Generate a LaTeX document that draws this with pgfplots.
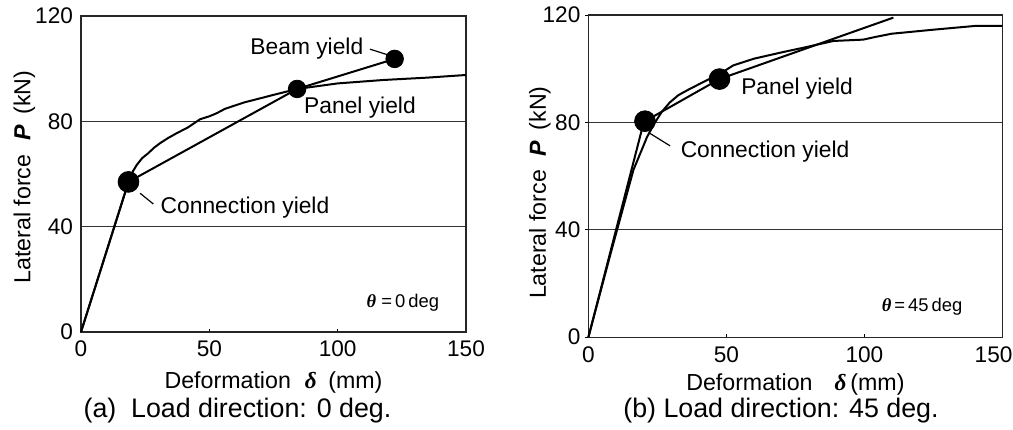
\documentclass[border=0pt]{standalone}
\usepackage{pgfplots}
\pgfplotsset{compat=1.18}
\usepackage{fontspec}
\setmainfont{Liberation Sans}
\newfontfamily\grk{Liberation Serif}
\newcommand{\bgreek}[1]{{\grk\bfseries\itshape #1}}
\newcommand{\bP}{{\bfseries\itshape P}}

\pgfplotsset{
  lfd/.style={
    scale only axis,
    xmin=0, xmax=150, ymin=0, ymax=120,
    xtick={0,50,100,150}, ytick={0,40,80,120},
    xtick pos=bottom, ytick pos=left,
    tick align=inside,
    major tick length=1.6pt,
    ymajorgrids,
    grid style={line width=0.45pt, black!80},
    axis line style={line width=0.7pt, black!85},
    tick style={line width=0.5pt, black},
    /pgf/number format/assume math mode=true,
    tick label style={font=\fontsize{11.3}{13}\selectfont},
    xticklabel style={yshift=-1pt},
    yticklabel style={xshift=-0.5pt},
    clip=false,
  },
  curve/.style={black, line width=1pt, line join=round},
  yieldpt/.style={only marks, mark=*, mark options={fill=black, draw=black}},
}

\begin{document}
\begin{tikzpicture}
\path[use as bounding box] (0,0) rectangle (506.5pt,214.5pt);

% ---------- (a) load direction 0 deg ----------
\begin{axis}[lfd,
  at={(40.5pt,48.5pt)}, anchor=south west,
  width=192.5pt, height=158pt,
  y tick style={draw=none},
]
% experimental envelope
\addplot[curve] coordinates {
  (0,0) (18.5,57) (20.2,61) (21.7,63.4) (23.8,66) (26.2,67.9) (28.5,70)
  (30.8,71.7) (34,73.7) (37.3,75.5) (41.5,77.6) (46.4,80.8) (50,81.9)
  (52.9,83.1) (56,84.7) (59.3,85.8) (64,87.3) (69.7,88.7) (76,90.3)
  (84.2,92.3) (100,94.4) (117.8,95.7) (135,96.6) (150,97.6)
};
% multi-linear model
\addplot[curve] coordinates {(0,0) (18.5,57) (84.2,92.3) (122.2,103.7)};
\addplot[yieldpt, mark size=5.2pt] coordinates {(18.5,57)};
\addplot[yieldpt, mark size=4.4pt] coordinates {(84.2,92.3) (122.2,103.7)};

\draw[line width=0.6pt] (axis cs:112.6,107.4) -- (axis cs:119.7,105.2);
\draw[line width=0.6pt] (axis cs:23,52.7) -- (axis cs:28.2,48.6);
\node[font=\fontsize{11.4}{13}\selectfont] at (axis cs:88,107.5) {Beam yield};
\node[font=\fontsize{11.4}{13}\selectfont] at (axis cs:108.7,85.1) {Panel yield};
\node[font=\fontsize{11.4}{13}\selectfont] at (axis cs:63.9,47.1) {Connection yield};
\node[font=\fontsize{9.2}{11}\selectfont] at (axis cs:125.4,11) {\bgreek{θ}~=\,0\,deg};

\node[font=\fontsize{11.6}{13}\selectfont] at (axis description cs:0.5,-0.161)
  {Deformation\hspace{0.6em}\bgreek{δ}\hspace{0.5em}(mm)};
\node[font=\fontsize{11.6}{13}\selectfont, rotate=90] at (axis description cs:-0.147,0.49)
  {Lateral force\hspace{0.6em}\bP\hspace{0.45em}(kN)};
\end{axis}

% ---------- (b) load direction 45 deg ----------
\begin{axis}[lfd,
  at={(294.2pt,45.9pt)}, anchor=south west,
  width=207pt, height=161pt,
  y tick style={xshift=-1.6pt},
  xticklabels={0,50,100,\makebox[0pt][r]{150\kern-5pt}},
]
% experimental envelope
\addplot[curve] coordinates {
  (0,0) (8,31) (16.3,62.3) (18.8,68.5) (21.2,74.5) (23.8,79.5) (26.6,84)
  (29.5,87.5) (32.6,90.2) (36.5,92.4) (40.5,94.5) (45,96.8) (48,98.4)
  (52.5,101.3) (60,103.8) (70.7,106.3) (78,107.9) (88.8,110.4) (99.6,110.9)
  (104,111.9) (109.9,113.1) (125,114.6) (140.1,116) (150,116)
};
% multi-linear model
\addplot[curve] coordinates {(0,0) (19.3,77.1) (20.5,80.5) (47.5,96.2) (110.5,119.1)};
\addplot[yieldpt, mark size=5.2pt] coordinates {(20.5,80.5) (47.5,96.2)};

\draw[line width=0.6pt] (axis cs:22.4,75.9) -- (axis cs:29.6,71.3);
\node[font=\fontsize{11.4}{13}\selectfont] at (axis cs:75.6,92.8) {Panel yield};
\node[font=\fontsize{11.4}{13}\selectfont] at (axis cs:64,69.3) {Connection yield};
\node[font=\fontsize{9.2}{11}\selectfont] at (axis cs:120.9,11.3) {\bgreek{θ}\,=\,45\,deg};

\node[font=\fontsize{11.6}{13}\selectfont] at (axis description cs:0.5,-0.148)
  {Deformation\hspace{0.95em}\bgreek{δ}\,(mm)};
\node[font=\fontsize{11.6}{13}\selectfont, rotate=90] at (axis description cs:-0.117,0.449)
  {Lateral force\hspace{0.6em}\bP\hspace{0.45em}(kN)};
\end{axis}

% captions
\node[font=\fontsize{13.4}{16}\selectfont] at (118.75pt,9pt) {(a)\hspace{0.55em}Load direction: 0 deg.};
\node[font=\fontsize{13.4}{16}\selectfont] at (390.5pt,9pt) {(b) Load direction: 45 deg.};
\end{tikzpicture}
\end{document}
